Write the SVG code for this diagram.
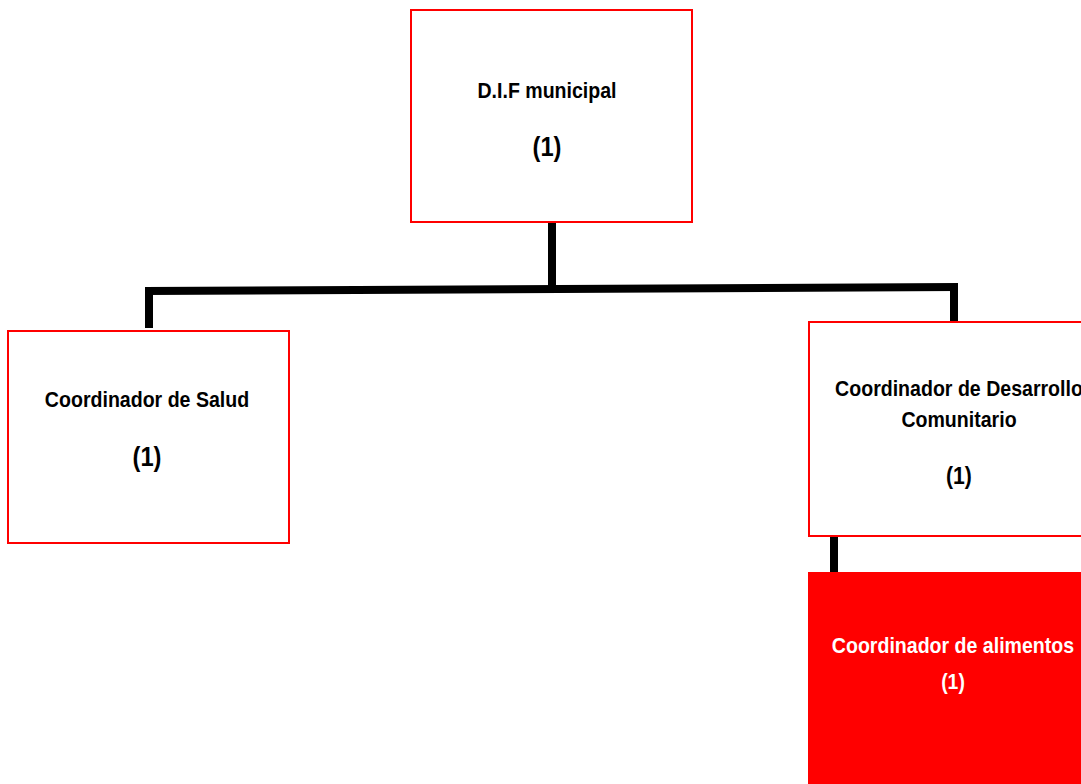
<svg xmlns="http://www.w3.org/2000/svg" width="1081" height="784" viewBox="0 0 1081 784">
  <style>
    .box { fill: #ffffff; stroke: #ff0000; stroke-width: 2; }
    .box-filled { fill: #ff0000; stroke: #ff0000; stroke-width: 2; }
    .lbl { font-family: "Liberation Sans", Arial, sans-serif; font-weight: bold; font-size: 21.5px; text-anchor: middle; fill: #000000; }
    .num { font-size: 27px; }
    .num-md { font-size: 24px; }
    .num-sm { font-size: 22px; }
    .lbl-inv { fill: #ffffff; }
    .link { stroke: #000000; stroke-width: 8; fill: none; stroke-linecap: butt; }
  </style>
  <rect width="1081" height="784" fill="#ffffff"/>

  <!-- connectors -->
  <g id="connectors">
    <line class="link" x1="552" y1="222" x2="552" y2="289"/>
    <line class="link" x1="145" y1="291" x2="958" y2="287"/>
    <line class="link" x1="149" y1="288" x2="149" y2="328"/>
    <line class="link" x1="954" y1="284" x2="954" y2="323"/>
    <line class="link" x1="834" y1="536" x2="834" y2="574"/>
  </g>

  <!-- top-level office -->
  <g id="dif-municipal">
    <rect class="box" x="411" y="10" width="281" height="212"/>
    <text class="lbl" transform="translate(547 98) scale(0.91 1)">D.I.F municipal</text>
    <text class="lbl num" transform="translate(547 156) scale(0.88 1)">(1)</text>
  </g>

  <g id="coord-salud">
    <rect class="box" x="8" y="331" width="281" height="212"/>
    <text class="lbl" transform="translate(147 407) scale(0.91 1)">Coordinador de Salud</text>
    <text class="lbl num" transform="translate(147 466) scale(0.88 1)">(1)</text>
  </g>

  <g id="coord-desarrollo">
    <rect class="box" x="809" y="322" width="300" height="214"/>
    <text class="lbl" transform="translate(959 396) scale(0.91 1)">Coordinador de Desarrollo</text>
    <text class="lbl" transform="translate(959 427) scale(0.91 1)">Comunitario</text>
    <text class="lbl num-md" transform="translate(959 484) scale(0.88 1)">(1)</text>
  </g>

  <g id="coord-alimentos">
    <rect class="box-filled" x="809" y="573" width="300" height="220"/>
    <text class="lbl lbl-inv" transform="translate(953 653) scale(0.91 1)">Coordinador de alimentos</text>
    <text class="lbl lbl-inv num-sm" transform="translate(953 689) scale(0.88 1)">(1)</text>
  </g>
</svg>
